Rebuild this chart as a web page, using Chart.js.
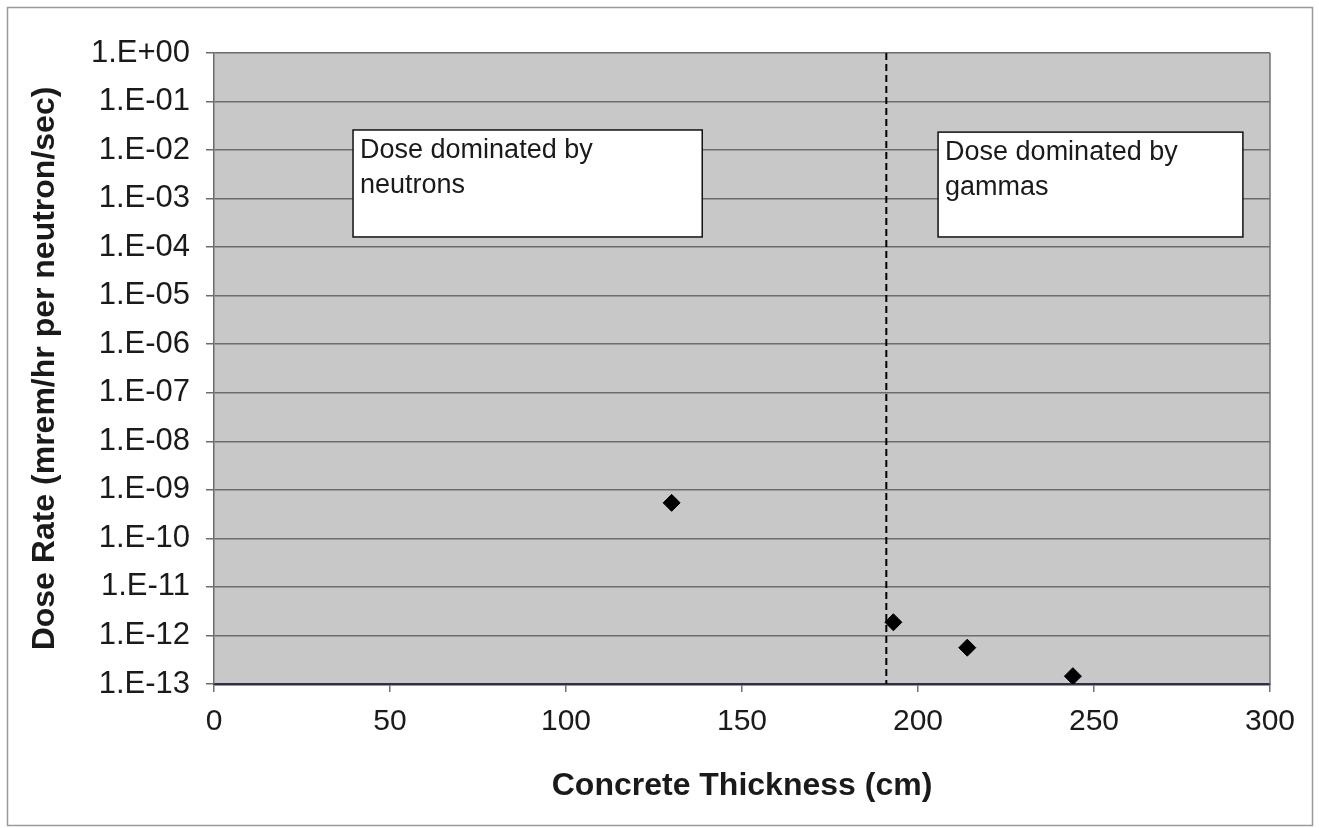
<!DOCTYPE html>
<html>
<head>
<meta charset="utf-8">
<script src="https://cdn.jsdelivr.net/npm/chart.js@4"></script>
<style>
  html, body { margin: 0; padding: 0; background: #ffffff; }
  canvas { display: block; }
</style>
</head>
<body>
<canvas id="doseChart" width="1319" height="828"></canvas>
<script>
// ================================
// DATA
// ================================
const thickness = [130, 193, 214, 244];
const doseRate = [5.4e-10, 1.87e-12, 5.6e-13, 1.45e-13];

const yTickValues = [1e-13, 1e-12, 1e-11, 1e-10, 1e-9, 1e-8, 1e-7, 1e-6, 1e-5, 1e-4, 1e-3, 1e-2, 1e-1, 1];
const yTickLabels = ["1.E-13", "1.E-12", "1.E-11", "1.E-10", "1.E-09", "1.E-08", "1.E-07",
                     "1.E-06", "1.E-05", "1.E-04", "1.E-03", "1.E-02", "1.E-01", "1.E+00"];
const xTickLabels = ["0", "50", "100", "150", "200", "250", "300"];

const boundaryThickness = 191;
const noteNeutrons = ["Dose dominated by", "neutrons"];
const noteGammas = ["Dose dominated by", "gammas"];

// ================================
// STYLE
// ================================
const FONT = "'Liberation Sans', Arial, Helvetica, sans-serif";
const TEXT = "#1a1a1a";

// annotation boxes, in data coordinates
const notes = [
  { x0: 39.5, x1: 138.7, y0: Math.pow(10, -1.586), y1: Math.pow(10, -3.79), lines: noteNeutrons },
  { x0: 205.7, x1: 292.3, y0: Math.pow(10, -1.63), y1: Math.pow(10, -3.79), lines: noteGammas }
];

const decorPlugin = {
  id: "decor",
  beforeDraw(chart) {
    const { ctx, chartArea: a } = chart;
    ctx.save();
    // outer frame
    ctx.strokeStyle = "#9a9a9a";
    ctx.lineWidth = 1.5;
    ctx.strokeRect(7.5, 7.5, 1305, 818);
    // plot background
    ctx.fillStyle = "#c8c8c9";
    ctx.fillRect(a.left, a.top, a.right - a.left, a.bottom - a.top);
    ctx.restore();
  },
  beforeDatasetsDraw(chart) {
    const { ctx, chartArea: a, scales } = chart;
    const x = scales.x, y = scales.y;
    ctx.save();
    // right edge of plot
    ctx.strokeStyle = "#707070";
    ctx.lineWidth = 1.5;
    ctx.beginPath();
    ctx.moveTo(a.right, a.top);
    ctx.lineTo(a.right, a.bottom);
    ctx.stroke();

    // dashed boundary line
    const bx = x.getPixelForValue(boundaryThickness);
    ctx.strokeStyle = "#000000";
    ctx.lineWidth = 2;
    ctx.setLineDash([7, 4]);
    ctx.beginPath();
    ctx.moveTo(bx, a.top);
    ctx.lineTo(bx, a.bottom);
    ctx.stroke();
    ctx.setLineDash([]);

    // text boxes
    notes.forEach(n => {
      const l = x.getPixelForValue(n.x0), r = x.getPixelForValue(n.x1);
      const t = y.getPixelForValue(n.y0), b = y.getPixelForValue(n.y1);
      ctx.fillStyle = "#ffffff";
      ctx.fillRect(l, t, r - l, b - t);
      ctx.strokeStyle = "#111111";
      ctx.lineWidth = 1.5;
      ctx.strokeRect(l, t, r - l, b - t);
      ctx.fillStyle = TEXT;
      ctx.font = "27px " + FONT;
      ctx.textAlign = "left";
      ctx.textBaseline = "alphabetic";
      n.lines.forEach((s, i) => ctx.fillText(s, l + 7, t + 28 + i * 35));
    });
    ctx.restore();
  }
};

// ================================
// CHART
// ================================
new Chart(document.getElementById("doseChart"), {
  type: "scatter",
  data: {
    datasets: [{
      data: thickness.map((t, i) => ({ x: t, y: doseRate[i] })),
      pointStyle: "rectRot",
      pointRadius: 8.5,
      pointBackgroundColor: "#000000",
      pointBorderColor: "#000000",
      pointBorderWidth: 1,
      showLine: false
    }]
  },
  options: {
    responsive: false,
    animation: false,
    events: [],
    layout: { padding: { top: 53, right: 49, left: 0, bottom: 0 } },
    plugins: {
      legend: { display: false },
      tooltip: { enabled: false }
    },
    scales: {
      x: {
        type: "linear",
        min: 0,
        max: 300,
        afterFit: s => { s.height = 144; },
        ticks: {
          stepSize: 50,
          padding: 12,
          color: TEXT,
          font: { family: FONT, size: 30 },
          callback: (v, i) => xTickLabels[i]
        },
        grid: {
          drawOnChartArea: false,
          drawTicks: true,
          tickLength: 8,
          color: "#707070",
          lineWidth: 1.5
        },
        border: { color: "#2e2e44", width: 2.5 },
        title: {
          display: true,
          text: "Concrete Thickness (cm)",
          color: TEXT,
          font: { family: FONT, size: 32, weight: "bold" },
          padding: { bottom: 23 }
        }
      },
      y: {
        type: "logarithmic",
        min: 1e-13,
        max: 1,
        afterFit: s => { s.width = 214; },
        afterBuildTicks: s => { s.ticks = yTickValues.map(v => ({ value: v })); },
        ticks: {
          autoSkip: false,
          padding: 16,
          color: TEXT,
          font: { family: FONT, size: 31 },
          callback: (v, i) => yTickLabels[i]
        },
        grid: {
          color: "#6c6c6c",
          lineWidth: 1.5,
          tickLength: 8
        },
        border: { color: "#6c6c6c", width: 1.5 },
        title: {
          display: true,
          text: "Dose Rate (mrem/hr per neutron/sec)",
          color: TEXT,
          font: { family: FONT, size: 32, weight: "bold" },
          padding: { top: 26 }
        }
      }
    }
  },
  plugins: [decorPlugin]
});
</script>
</body>
</html>
